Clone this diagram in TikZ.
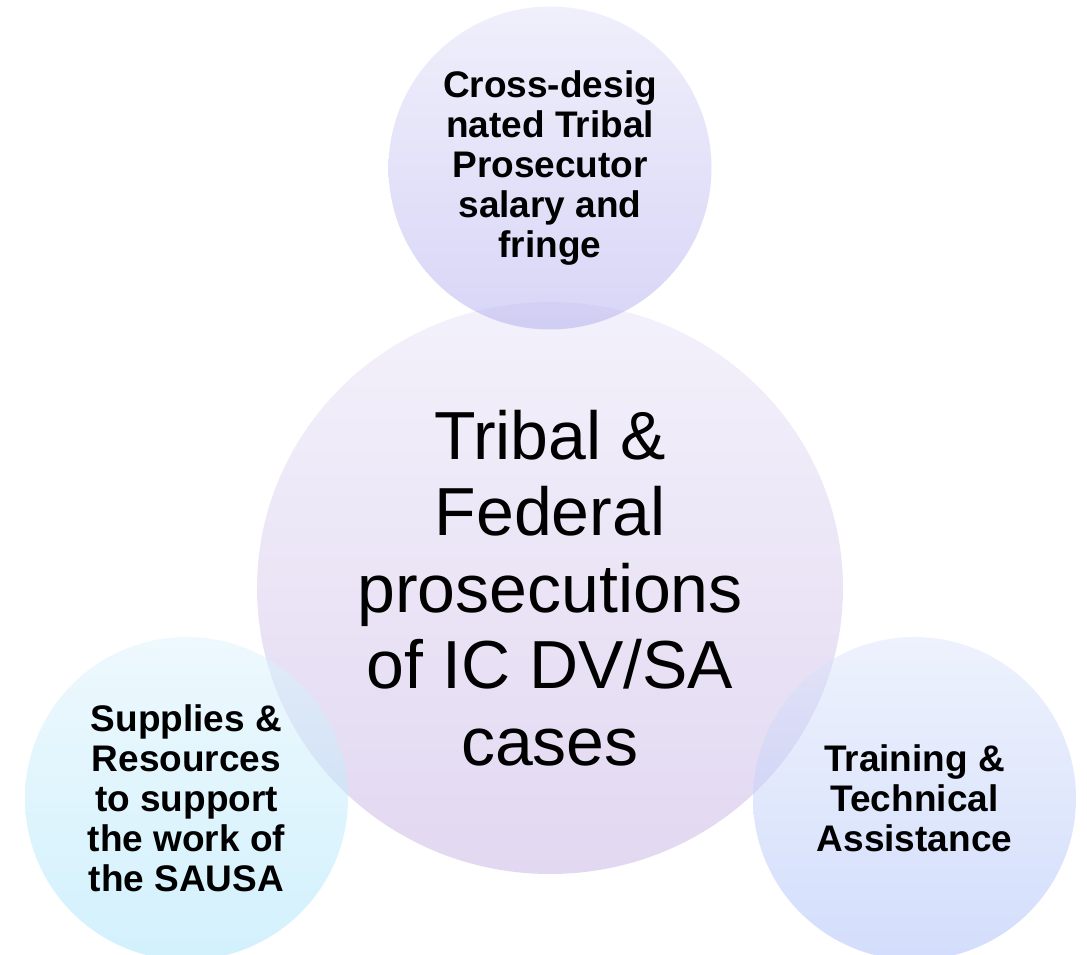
\documentclass[tikz,border=0pt]{standalone}
\usepackage{fontspec}
\setmainfont{Liberation Sans}
\usetikzlibrary{shapes.geometric}
\definecolor{bigtop}{RGB}{243,241,251}
\definecolor{bigbot}{RGB}{226,216,241}
\definecolor{toptop}{RGB}{225,223,247}
\definecolor{topbot}{RGB}{177,173,239}
\definecolor{lefttop}{RGB}{221,243,251}
\definecolor{leftbot}{RGB}{165,227,251}
\definecolor{righttop}{RGB}{221,229,251}
\definecolor{rightbot}{RGB}{167,189,249}
\begin{document}
\begin{tikzpicture}[x=1pt,y=-1pt,
  bubble/.style={circle, minimum size=323pt, inner sep=0pt, fill opacity=0.5,
    text opacity=1, font=\fontsize{37}{40}\selectfont\bfseries, align=center},
  corebubble/.style={ellipse, minimum width=586pt, minimum height=572pt, inner sep=0pt,
    font=\fontsize{68}{76.5}\selectfont, align=center}]
\useasboundingbox (0,0) rectangle (1087,955);
\node[corebubble, top color=bigtop, bottom color=bigbot] (core) at (550,588)
  {Tribal \&\\Federal\\prosecutions\\of IC DV/SA\\cases};
\node[bubble, top color=toptop, bottom color=topbot] (topc) at (550,168)
  {Cross-desig\\nated Tribal\\Prosecutor\\salary and\\fringe};
\node[bubble, top color=lefttop, bottom color=leftbot] (leftc) at (186.5,798.5)
  {Supplies \&\\Resources\\to support\\the work of\\the SAUSA};
\node[bubble, top color=righttop, bottom color=rightbot] (rightc) at (914.5,798.5)
  {Training \&\\Technical\\Assistance};
\end{tikzpicture}
\end{document}
